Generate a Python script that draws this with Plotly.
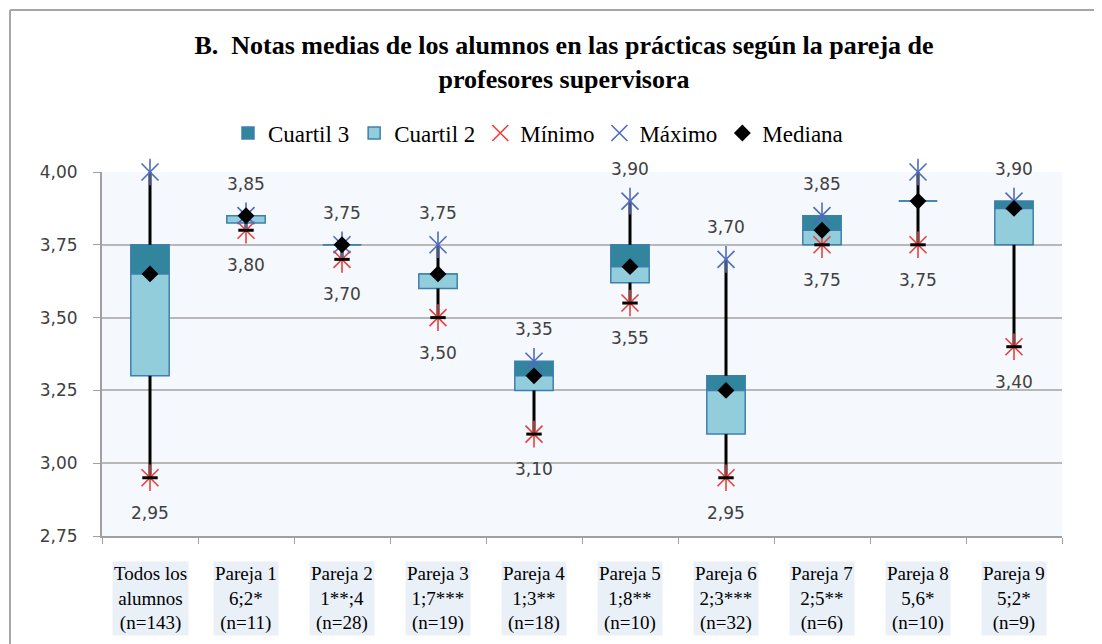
import plotly.graph_objects as go

# ---------------- data ----------------
categories = ["Todos", "P1", "P2", "P3", "P4", "P5", "P6", "P7", "P8", "P9"]
cat_labels = [
    "Todos los<br>alumnos<br>(n=143)",
    "Pareja 1<br>6;2*<br>(n=11)",
    "Pareja 2<br>1**;4<br>(n=28)",
    "Pareja 3<br>1;7***<br>(n=19)",
    "Pareja 4<br>1;3**<br>(n=18)",
    "Pareja 5<br>1;8**<br>(n=10)",
    "Pareja 6<br>2;3***<br>(n=32)",
    "Pareja 7<br>2;5**<br>(n=6)",
    "Pareja 8<br>5,6*<br>(n=10)",
    "Pareja 9<br>5;2*<br>(n=9)",
]
minimo = [2.95, 3.80, 3.70, 3.50, 3.10, 3.55, 2.95, 3.75, 3.75, 3.40]
q1 = [3.30, 3.825, 3.75, 3.60, 3.25, 3.62, 3.10, 3.75, 3.90, 3.75]
mediana = [3.65, 3.85, 3.75, 3.65, 3.30, 3.675, 3.25, 3.80, 3.90, 3.875]
q3 = [3.75, 3.85, 3.75, 3.65, 3.35, 3.75, 3.30, 3.85, 3.90, 3.90]
maximo = [4.00, 3.85, 3.75, 3.75, 3.35, 3.90, 3.70, 3.85, 4.00, 3.90]
max_labels = ["", "3,85", "3,75", "3,75", "3,35", "3,90", "3,70", "3,85", "", "3,90"]
min_labels = ["2,95", "3,80", "3,70", "3,50", "3,10", "3,55", "2,95", "3,75", "3,75", "3,40"]
y_ticks = [2.75, 3.00, 3.25, 3.50, 3.75, 4.00]

# ---------------- styles ----------------
OFF = 8  # page body margin
W, H = 1102 - OFF, 644 - OFF
ML, MR, MT, MB = 102 - OFF, 40, 172 - OFF, 108
PW, PH = W - ML - MR, H - MT - MB
SERIF = "Liberation Serif, Times New Roman, serif"
SANS = "DejaVu Sans, Verdana, sans-serif"
DARK = "#31859c"
LIGHT = "#92cddc"
OUTLINE = "#3f7fb0"
RED = "#e8413c"
BLUE = "#4f6bbd"

fig = go.Figure()

# boxes
fig.add_trace(go.Bar(
    x=categories, y=[b - a for a, b in zip(mediana, q3)], base=mediana,
    name="Cuartil 3", width=0.4,
    marker=dict(color=DARK, line=dict(color=OUTLINE, width=1.5)),
))
fig.add_trace(go.Bar(
    x=categories, y=[b - a for a, b in zip(q1, mediana)], base=q1,
    name="Cuartil 2", width=0.4,
    marker=dict(color=LIGHT, line=dict(color=OUTLINE, width=1.5)),
))

# whiskers
wx, wy = [], []
for c, lo, a, b, hi in zip(categories, minimo, q1, q3, maximo):
    wx += [c, c, None, c, c, None]
    wy += [lo, a, None, b, hi, None]
fig.add_trace(go.Scatter(x=wx, y=wy, mode="lines", line=dict(color="black", width=3),
                         showlegend=False, hoverinfo="skip"))

# min markers
fig.add_trace(go.Scatter(x=categories, y=minimo, mode="markers", name="Mínimo",
                         cliponaxis=False,
                         marker=dict(symbol="x-thin-open", size=17, color=RED,
                                     line=dict(color=RED, width=1.6))))
fig.add_trace(go.Scatter(x=categories, y=minimo, mode="markers", showlegend=False,
                         cliponaxis=False,
                         marker=dict(symbol="line-ns-open", size=19, color=RED,
                                     line=dict(color=RED, width=1.6))))
fig.add_trace(go.Scatter(x=categories, y=minimo, mode="markers", showlegend=False,
                         cliponaxis=False,
                         marker=dict(symbol="line-ew-open", size=11, color="black",
                                     line=dict(color="black", width=3))))
# max markers
fig.add_trace(go.Scatter(x=categories, y=maximo, mode="markers", name="Máximo",
                         cliponaxis=False,
                         marker=dict(symbol="x-thin-open", size=17, color=BLUE,
                                     line=dict(color=BLUE, width=1.6))))
fig.add_trace(go.Scatter(x=categories, y=maximo, mode="markers", showlegend=False,
                         cliponaxis=False,
                         marker=dict(symbol="line-ns-open", size=19, color=BLUE,
                                     line=dict(color=BLUE, width=1.6))))
# median
fig.add_trace(go.Scatter(x=categories, y=mediana, mode="markers", name="Mediana",
                         cliponaxis=False,
                         marker=dict(symbol="diamond", size=13, color="black")))

annotations = []
for c, v, t in zip(categories, maximo, max_labels):
    if t:
        annotations.append(dict(x=c, y=v, text=t, showarrow=False, yshift=32,
                                font=dict(family=SANS, size=17, color="#404040")))
for c, v, t in zip(categories, minimo, min_labels):
    annotations.append(dict(x=c, y=v, text=t, showarrow=False, yshift=-35,
                            font=dict(family=SANS, size=17, color="#404040")))
for c, t in zip(categories, cat_labels):
    annotations.append(dict(x=c, y=0, yref="paper", yanchor="top", text=t,
                            showarrow=False, yshift=-25, bgcolor="#eaf0f8",
                            borderpad=1,
                            font=dict(family=SERIF, size=19, color="black")))

def px_x(p):
    return (p - OFF - ML) / PW

def px_y(p):
    return (H - MB - (p - OFF)) / PH

shapes = [
    dict(type="line", xref="paper", yref="paper", x0=px_x(10), x1=px_x(1110),
         y0=px_y(10), y1=px_y(10), line=dict(color="#a6a6a6", width=2)),
    dict(type="line", xref="paper", yref="paper", x0=px_x(10), x1=px_x(10),
         y0=px_y(10), y1=px_y(650), line=dict(color="#a6a6a6", width=2)),
]

fig.update_layout(
    width=W, height=H,
    margin=dict(l=ML, r=MR, t=MT, b=MB, autoexpand=False),
    paper_bgcolor="white", plot_bgcolor="#f5f8fc",
    separators=",.",
    barmode="overlay",
    title=dict(text="<b>B.  Notas medias de los alumnos en las prácticas según la pareja de<br>profesores supervisora</b>",
               x=(564 - OFF) / W, xref="container", xanchor="center",
               y=1 - (62 - 2 * OFF) / H, yref="container", yanchor="middle",
               font=dict(family=SERIF, size=26, color="black")),
    legend=dict(orientation="h", x=(538 - OFF) / W, xref="container", xanchor="center",
                y=1 - (133 - OFF) / H, yref="container", yanchor="middle",
                font=dict(family=SERIF, size=23, color="black"),
                itemwidth=30, traceorder="normal"),
    showlegend=True,
    annotations=annotations,
    shapes=shapes,
)
fig.update_xaxes(type="category", showticklabels=False, tickson="boundaries",
                 ticks="outside", ticklen=6, tickcolor="#a0a0a0",
                 showline=True, linecolor="#a0a0a0", linewidth=2,
                 showgrid=False, range=[-0.5, 9.5])
fig.update_yaxes(range=[2.75, 4.0], tickvals=y_ticks, tickformat=".2f",
                 ticks="outside", ticklen=7, tickcolor="#a0a0a0",
                 showline=True, linecolor="#a0a0a0", linewidth=2,
                 gridcolor="#b8b8b8", gridwidth=1.5, zeroline=False,
                 ticklabelstandoff=12,
                 tickfont=dict(family=SANS, size=17, color="#404040"))

fig.write_html("out.html")
